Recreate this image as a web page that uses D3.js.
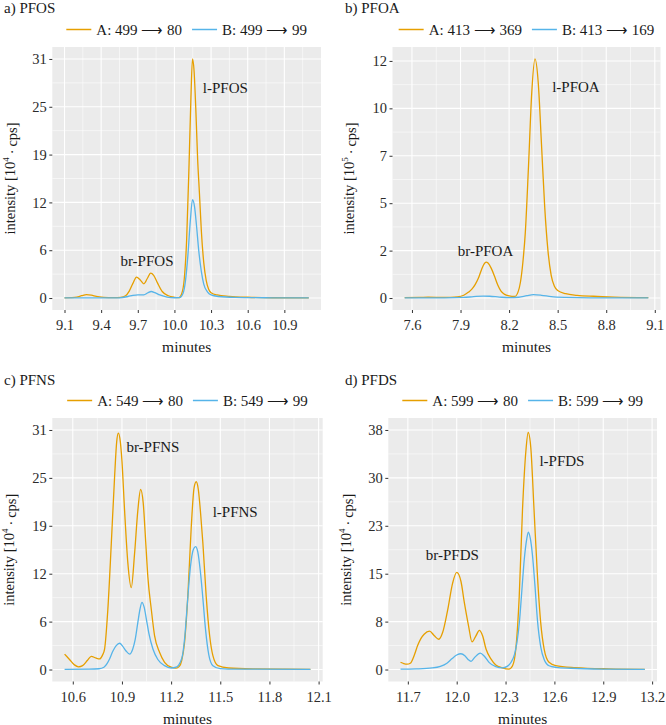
<!DOCTYPE html>
<html>
<head>
<meta charset="utf-8">
<script src="https://cdn.jsdelivr.net/npm/d3@7"></script>
<style>
  body { margin: 0; background: #fff; }
  svg { display: block; font-family: "Liberation Serif", serif; }
</style>
</head>
<body>
<svg id="chart"></svg>
<script>
// chromatogram traces, [minutes, intensity]
var pfosA = [[9.10,0.02],[9.15,0.05],[9.20,0.12],[9.24,0.3],[9.28,0.45],[9.32,0.38],[9.36,0.22],[9.42,0.1],[9.50,0.05],[9.56,0.08],
  [9.60,0.3],[9.63,0.9],[9.66,1.9],[9.69,2.72],[9.72,2.35],[9.75,1.85],[9.78,2.6],[9.805,3.24],[9.83,2.95],[9.86,2.0],[9.90,0.85],
  [9.95,0.3],[10.00,0.1],[10.035,0.05],[10.06,0.6],[10.08,2.4],[10.10,7.6],[10.12,17.5],[10.135,26],[10.148,31],[10.16,29.6],
  [10.175,24.5],[10.19,18],[10.205,13.5],[10.22,8.8],[10.24,4.6],[10.26,2.3],[10.28,1.15],[10.30,0.7],[10.35,0.4],[10.45,0.22],
  [10.60,0.1],[10.80,0.04],[11.10,0.02]];
var pfosB = [[9.10,0.01],[9.40,0.02],[9.55,0.03],[9.62,0.2],[9.66,0.35],[9.70,0.42],[9.75,0.42],[9.78,0.65],[9.81,0.85],[9.84,0.7],
  [9.88,0.4],[9.94,0.12],[10.00,0.04],[10.04,0.05],[10.07,0.6],[10.09,2.2],[10.11,5.5],[10.13,10.0],[10.148,12.75],[10.165,11.8],
  [10.18,9.5],[10.20,6.0],[10.22,3.5],[10.24,1.8],[10.27,0.8],[10.30,0.4],[10.36,0.2],[10.50,0.08],[10.80,0.03],[11.10,0.01]];

var pfoaA = [[7.555,0.02],[7.65,0.03],[7.70,0.04],[7.80,0.03],[7.88,0.06],[7.92,0.14],[7.95,0.3],[7.97,0.45],[7.99,0.68],[8.01,1.0],
  [8.03,1.45],[8.045,1.72],[8.058,1.82],[8.07,1.77],[8.09,1.5],[8.11,1.1],[8.13,0.66],[8.15,0.35],[8.17,0.2],[8.20,0.11],[8.235,0.08],
  [8.255,0.3],[8.27,0.8],[8.285,1.8],[8.30,3.3],[8.32,6.7],[8.34,10.4],[8.36,12.1],[8.38,10.9],[8.40,7.8],[8.42,4.6],[8.44,2.4],
  [8.46,1.15],[8.48,0.6],[8.50,0.38],[8.55,0.22],[8.62,0.14],[8.72,0.09],[8.85,0.05],[9.06,0.02]];
var pfoaB = [[7.555,0.01],[7.80,0.01],[7.92,0.03],[7.98,0.07],[8.04,0.1],[8.08,0.09],[8.14,0.05],[8.20,0.02],[8.26,0.04],[8.31,0.12],
  [8.35,0.17],[8.40,0.14],[8.46,0.07],[8.55,0.03],[8.70,0.01],[9.06,0.01]];

var pfnsA = [[10.55,2.0],[10.58,1.3],[10.61,0.6],[10.635,0.35],[10.66,0.5],[10.69,1.2],[10.713,1.7],[10.74,1.5],[10.764,1.37],[10.78,1.8],
  [10.794,2.65],[10.814,7.8],[10.835,16.3],[10.855,24.9],[10.868,29.5],[10.878,30.6],[10.89,29.5],[10.90,27.0],[10.916,20.6],
  [10.936,13.8],[10.957,10.6],[10.977,15],[10.997,20.6],[11.014,23.3],[11.03,21.5],[11.045,16.5],[11.058,12],[11.079,7.8],
  [11.099,4.4],[11.13,2.2],[11.16,0.94],[11.20,0.3],[11.23,0.17],[11.25,0.4],[11.265,1.2],[11.282,3.5],[11.302,9.5],[11.323,18.5],
  [11.34,23.5],[11.353,24.3],[11.366,23.3],[11.38,20.2],[11.394,16.3],[11.414,9.5],[11.435,4.4],[11.455,1.8],[11.486,0.5],
  [11.55,0.2],[11.70,0.08],[11.90,0.04],[12.05,0.03]];
var pfnsB = [[10.55,0.03],[10.70,0.05],[10.76,0.1],[10.79,0.3],[10.81,0.8],[10.825,1.4],[10.845,2.4],[10.865,3.1],[10.886,3.4],
  [10.905,3.0],[10.925,2.4],[10.947,2.0],[10.965,2.6],[10.98,3.8],[10.997,6.1],[11.01,7.8],[11.022,8.7],[11.035,8.1],[11.05,6.4],
  [11.065,4.6],[11.089,2.65],[11.119,1.3],[11.16,0.5],[11.20,0.2],[11.235,0.35],[11.255,0.9],[11.27,1.9],[11.285,4.6],[11.30,8.8],
  [11.318,13.3],[11.335,15.5],[11.349,15.9],[11.363,15.2],[11.378,12.8],[11.393,9.4],[11.41,5.2],[11.43,1.9],[11.455,0.5],
  [11.50,0.12],[11.60,0.05],[12.05,0.02]];

var pfdsA = [[11.655,1.15],[11.675,0.95],[11.695,0.85],[11.715,1.0],[11.74,2.3],[11.76,3.8],[11.78,4.9],[11.80,5.6],[11.833,6.1],
  [11.863,5.35],[11.89,4.8],[11.914,5.9],[11.945,9.5],[11.975,13.7],[12.0,15.4],[12.026,14.0],[12.047,10.6],[12.073,6.9],
  [12.094,4.4],[12.118,5.35],[12.139,6.2],[12.159,5.35],[12.18,3.25],[12.21,1.7],[12.24,0.73],[12.28,0.26],[12.32,0.05],
  [12.343,0.6],[12.363,3.25],[12.384,11.6],[12.404,25.3],[12.425,34.7],[12.439,37.6],[12.455,35.2],[12.475,25.3],[12.496,14.8],
  [12.516,7.4],[12.537,3.25],[12.567,1.15],[12.608,0.63],[12.73,0.3],[12.935,0.1],[13.155,0.03]];
var pfdsB = [[11.655,0.05],[11.75,0.1],[11.85,0.25],[11.90,0.5],[11.94,1.0],[11.97,1.7],[12.0,2.3],[12.026,2.5],[12.05,2.2],
  [12.07,1.6],[12.088,1.3],[12.11,1.9],[12.145,2.6],[12.17,2.1],[12.20,1.1],[12.24,0.45],[12.28,0.25],[12.31,0.5],[12.335,1.2],
  [12.355,2.4],[12.37,4.3],[12.385,7.5],[12.40,12.5],[12.415,17.5],[12.43,20.7],[12.44,21.8],[12.452,20.8],[12.465,18.2],
  [12.48,13.5],[12.496,7.8],[12.516,3.6],[12.537,1.6],[12.567,0.6],[12.61,0.35],[12.70,0.2],[12.90,0.06],[13.155,0.02]];

// tick values
var pfosX = [9.1, 9.4, 9.7, 10.0, 10.3, 10.6, 10.9],  pfosY = [0, 6.2, 12.4, 18.6, 24.8, 31];
var pfoaX = [7.6, 7.9, 8.2, 8.5, 8.8, 9.1],           pfoaY = [0, 2.4, 4.8, 7.2, 9.6, 12];
var pfnsX = [10.6, 10.9, 11.2, 11.5, 11.8, 12.1],     pfnsY = [0, 6.2, 12.4, 18.6, 24.8, 31];
var pfdsX = [11.7, 12.0, 12.3, 12.6, 12.9, 13.2],     pfdsY = [0, 7.6, 15.2, 22.8, 30.4, 38];

var colA = "#E69F00", colB = "#56B4E9";

var panels = [
  {title: "a) PFOS", a: pfosA, b: pfosB, legA: "A: 499 \u27F6 80", legB: "B: 499 \u27F6 99",
   xt: pfosX, yt: pfosY, yMax: 31, exp: "4",
   notes: [["br-PFOS", 9.775, 4.1], ["l-PFOS", 10.417, 26.6]],
   box: {x0: 52.3, x1: 321, y0: 47, y1: 310}, titleX: 4, titleY: 13, yTitleX: 10},
  {title: "b) PFOA", a: pfoaA, b: pfoaB, legA: "A: 413 \u27F6 369", legB: "B: 413 \u27F6 169",
   xt: pfoaX, yt: pfoaY, yMax: 12.1, exp: "5",
   notes: [["br-PFOA", 8.054, 2.15], ["l-PFOA", 8.613, 10.42]],
   box: {x0: 392.5, x1: 660.5, y0: 47, y1: 310}, titleX: 345, titleY: 13, yTitleX: 348.5},
  {title: "c) PFNS", a: pfnsA, b: pfnsB, legA: "A: 549 \u27F6 80", legB: "B: 549 \u27F6 99",
   xt: pfnsX, yt: pfnsY, yMax: 31, exp: "4",
   notes: [["br-PFNS", 11.089, 28.2], ["l-PFNS", 11.591, 19.74]],
   box: {x0: 52.3, x1: 322.7, y0: 418, y1: 681.5}, titleX: 4, titleY: 384.5, yTitleX: 9},
  {title: "d) PFDS", a: pfdsA, b: pfdsB, legA: "A: 599 \u27F6 80", legB: "B: 599 \u27F6 99",
   xt: pfdsX, yt: pfdsY, yMax: 38, exp: "4",
   notes: [["br-PFDS", 11.973, 17.4], ["l-PFDS", 12.646, 32.3]],
   box: {x0: 388.3, x1: 657, y0: 418, y1: 681.5}, titleX: 345, titleY: 384.5, yTitleX: 346}
];

var svg = d3.select("#chart").attr("width", 666).attr("height", 725);
var fmtX = d3.format(".1f"), fmtY = d3.format(".0f");

function minors(ticks, dom) {
  var out = [];
  var step = ticks[1] - ticks[0];
  var ext = [ticks[0] - step].concat(ticks, [ticks[ticks.length - 1] + step]);
  for (var i = 0; i < ext.length - 1; i++) {
    var m = (ext[i] + ext[i + 1]) / 2;
    if (m >= dom[0] && m <= dom[1]) out.push(m);
  }
  return out;
}

panels.forEach(function(p) {
  var b = p.box;
  var xe = d3.extent(p.a, function(d) { return d[0]; });
  var pad = (xe[1] - xe[0]) * 0.05;
  var x = d3.scaleLinear().domain([xe[0] - pad, xe[1] + pad]).range([b.x0, b.x1]);
  var y = d3.scaleLinear().domain([-0.05 * p.yMax, 1.05 * p.yMax]).range([b.y1, b.y0]);
  var g = svg.append("g");

  g.append("rect").attr("x", b.x0).attr("y", b.y0)
    .attr("width", b.x1 - b.x0).attr("height", b.y1 - b.y0).attr("fill", "#EBEBEB");

  // minor grid
  g.selectAll(".mx").data(minors(p.xt, x.domain())).enter().append("line")
    .attr("x1", x).attr("x2", x).attr("y1", b.y0).attr("y2", b.y1)
    .attr("stroke", "#fff").attr("stroke-width", 0.55);
  g.selectAll(".my").data(minors(p.yt, y.domain())).enter().append("line")
    .attr("y1", y).attr("y2", y).attr("x1", b.x0).attr("x2", b.x1)
    .attr("stroke", "#fff").attr("stroke-width", 0.55);
  // major grid
  g.selectAll(".gx").data(p.xt.filter(function(t) { return t <= x.domain()[1]; })).enter().append("line")
    .attr("x1", x).attr("x2", x).attr("y1", b.y0).attr("y2", b.y1)
    .attr("stroke", "#fff").attr("stroke-width", 1.1);
  g.selectAll(".gy").data(p.yt).enter().append("line")
    .attr("y1", y).attr("y2", y).attr("x1", b.x0).attr("x2", b.x1)
    .attr("stroke", "#fff").attr("stroke-width", 1.1);

  var line = d3.line()
    .x(function(d) { return x(d[0]); })
    .y(function(d) { return y(d[1]); })
    .curve(d3.curveMonotoneX);
  g.append("path").datum(p.a).attr("d", line).attr("fill", "none")
    .attr("stroke", colA).attr("stroke-width", 1.3);
  g.append("path").datum(p.b).attr("d", line).attr("fill", "none")
    .attr("stroke", colB).attr("stroke-width", 1.3);

  // axes
  var ax = g.append("g").attr("transform", "translate(0," + b.y1 + ")")
    .call(d3.axisBottom(x).tickValues(p.xt).tickFormat(fmtX).tickSizeInner(3).tickSizeOuter(0).tickPadding(7));
  var ay = g.append("g").attr("transform", "translate(" + b.x0 + ",0)")
    .call(d3.axisLeft(y).tickValues(p.yt).tickFormat(fmtY).tickSizeInner(3).tickSizeOuter(0).tickPadding(2.5));
  [ax, ay].forEach(function(a) {
    a.select(".domain").remove();
    a.selectAll(".tick line").attr("stroke", "#333");
    a.selectAll(".tick text").attr("fill", "#2b2b2b")
      .style("font-family", "Liberation Serif").style("font-size", "14.5px");
  });

  // peak labels
  p.notes.forEach(function(n) {
    g.append("text").attr("x", x(n[1])).attr("y", y(n[2]))
      .attr("text-anchor", "middle").attr("font-size", 15).attr("fill", "#1a1a1a").text(n[0]);
  });

  // axis titles
  g.append("text").attr("x", (b.x0 + b.x1) / 2).attr("y", b.y1 + 42)
    .attr("text-anchor", "middle").attr("font-size", 15.5).attr("fill", "#1a1a1a").text("minutes");
  var yt = g.append("text")
    .attr("transform", "translate(" + p.yTitleX + "," + ((b.y0 + b.y1) / 2) + ") rotate(-90)")
    .attr("text-anchor", "middle").attr("dominant-baseline", "central")
    .attr("font-size", 14.5).attr("fill", "#1a1a1a");
  yt.append("tspan").text("intensity [10");
  yt.append("tspan").attr("dy", "-0.4em").attr("font-size", 9).text(p.exp);
  yt.append("tspan").attr("dy", "0.4em").text("\u2009\u00B7\u2009cps]");

  // panel title
  g.append("text").attr("x", p.titleX).attr("y", p.titleY)
    .attr("font-size", 15).attr("fill", "#1a1a1a").text(p.title);

  // legend
  var ly = b.y0 - 17.5;
  var leg = g.append("g");
  var items = [[p.legA, colA], [p.legB, colB]];
  var cx = 0;
  items.forEach(function(it) {
    leg.append("line").attr("x1", cx).attr("x2", cx + 25).attr("y1", 0).attr("y2", 0)
      .attr("stroke", it[1]).attr("stroke-width", 1.5);
    var t = leg.append("text").attr("x", cx + 30).attr("y", 5).attr("font-size", 15)
      .attr("fill", "#1a1a1a").text(it[0]);
    cx += 30 + t.node().getComputedTextLength() + 10;
  });
  var lw = cx - 10;
  leg.attr("transform", "translate(" + ((b.x0 + b.x1) / 2 - lw / 2) + "," + ly + ")");
});
</script>
</body>
</html>
